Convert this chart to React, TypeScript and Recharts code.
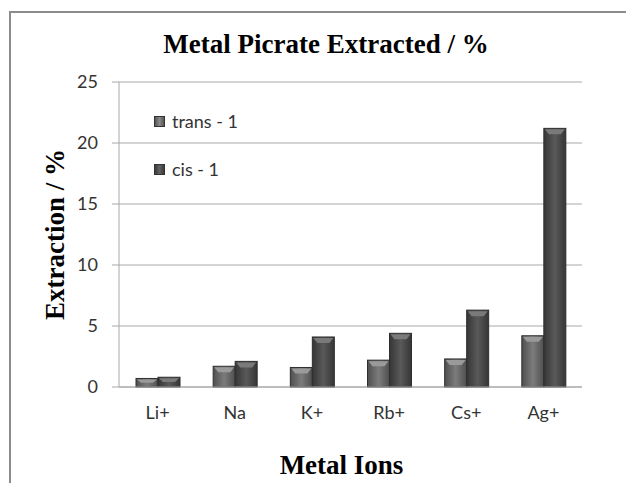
import { BarChart, Bar, XAxis, YAxis, CartesianGrid } from 'recharts'

const ions = ['Li+', 'Na', 'K+', 'Rb+', 'Cs+', 'Ag+']
const trans1 = [0.7, 1.7, 1.6, 2.2, 2.3, 4.2]
const cis1 = [0.8, 2.1, 4.1, 4.4, 6.3, 21.2]
const yTicks = [0, 5, 10, 15, 20, 25]

const data = ions.map((ion, i) => ({ ion, trans: trans1[i], cis: cis1[i] }))

const serif = '"Liberation Serif", "Times New Roman", serif'
const sans = 'Lato, "Liberation Sans", sans-serif'

// bar with a bevelled light top, like the old Excel 3D style
const BevelBar = (props: any) => {
  const { x, y, width, height, gradId, top } = props
  if (!height || height <= 0) return null
  const b = Math.min(6, height / 2)
  return (
    <g>
      <rect x={x} y={y} width={width} height={height} fill={`url(#${gradId})`} stroke="#2e2e2e" strokeWidth={1} />
      <polygon
        points={`${x + 1},${y + 1} ${x + width - 1},${y + 1} ${x + width - 5},${y + b} ${x + 5},${y + b}`}
        fill={top}
      />
    </g>
  )
}

const legendItems = [
  { label: 'trans - 1', grad: 'linear-gradient(90deg,#555,#8a8a8a,#555)' },
  { label: 'cis - 1', grad: 'linear-gradient(90deg,#3a3a3a,#626262,#3a3a3a)' },
]

export default function App() {
  return (
    <div style={{ position: 'relative', width: 626, height: 475, overflow: 'hidden', background: '#fff' }}>
      <div
        style={{
          position: 'absolute', left: 1, top: 3, width: 700, height: 600,
          borderLeft: '2px solid #8c8c8c', borderTop: '2px solid #8c8c8c',
        }}
      />
      <div
        style={{
          position: 'absolute', left: 0, width: 636, top: 21, textAlign: 'center',
          fontFamily: serif, fontWeight: 'bold', fontSize: 27, color: '#000',
        }}
      >
        Metal Picrate Extracted / %
      </div>
      <div style={{ position: 'absolute', left: 0, top: 0 }}>
        <BarChart width={626} height={475} data={data} margin={{ top: 74, right: 52, bottom: 0, left: 0 }} barSize={22} barGap={0}>
          <defs>
            <linearGradient id="gTrans" x1="0" y1="0" x2="1" y2="0">
              <stop offset="0%" stopColor="#4f4f4f" />
              <stop offset="50%" stopColor="#7c7c7c" />
              <stop offset="100%" stopColor="#4f4f4f" />
            </linearGradient>
            <linearGradient id="gCis" x1="0" y1="0" x2="1" y2="0">
              <stop offset="0%" stopColor="#363636" />
              <stop offset="50%" stopColor="#595959" />
              <stop offset="100%" stopColor="#363636" />
            </linearGradient>
          </defs>
          <CartesianGrid vertical={false} stroke="#a8a8a8" />
          <XAxis
            dataKey="ion"
            height={96}
            tickLine={false}
            tickSize={0}
            tickMargin={19}
            axisLine={{ stroke: '#a8a8a8' }}
            tick={{ fontFamily: sans, fontSize: 18, fill: '#333' }}
            label={{
              value: 'Metal Ions', position: 'insideBottom', offset: 9, dx: -9,
              style: { fontFamily: serif, fontWeight: 'bold', fontSize: 27, fill: '#000' },
            }}
          />
          <YAxis
            width={111}
            domain={[0, 25]}
            ticks={yTicks}
            tickSize={7}
            tickMargin={14}
            axisLine={{ stroke: '#a8a8a8' }}
            tickLine={{ stroke: '#a8a8a8' }}
            tick={{ fontFamily: sans, fontSize: 18, fill: '#333' }}
            label={{
              value: 'Extraction / %', angle: -90, position: 'center', dx: -9,
              style: { fontFamily: serif, fontWeight: 'bold', fontSize: 27, fill: '#000', textAnchor: 'middle' },
            }}
          />
          <Bar dataKey="trans" name="trans - 1" isAnimationActive={false} shape={(p: any) => <BevelBar {...p} gradId="gTrans" top="#9a9a9a" />} />
          <Bar dataKey="cis" name="cis - 1" isAnimationActive={false} shape={(p: any) => <BevelBar {...p} gradId="gCis" top="#7a7a7a" />} />
        </BarChart>
      </div>
      <div style={{ position: 'absolute', left: 146, top: 102, fontFamily: sans, fontSize: 18, color: '#333' }}>
        {legendItems.map((it, i) => (
          <div key={i} style={{ display: 'flex', alignItems: 'center', height: 22, marginBottom: i === 0 ? 26 : 0 }}>
            <span style={{ width: 9, height: 9, background: it.grad, border: '1px solid #333', marginRight: 7 }} />
            <span>{it.label}</span>
          </div>
        ))}
      </div>
    </div>
  )
}
